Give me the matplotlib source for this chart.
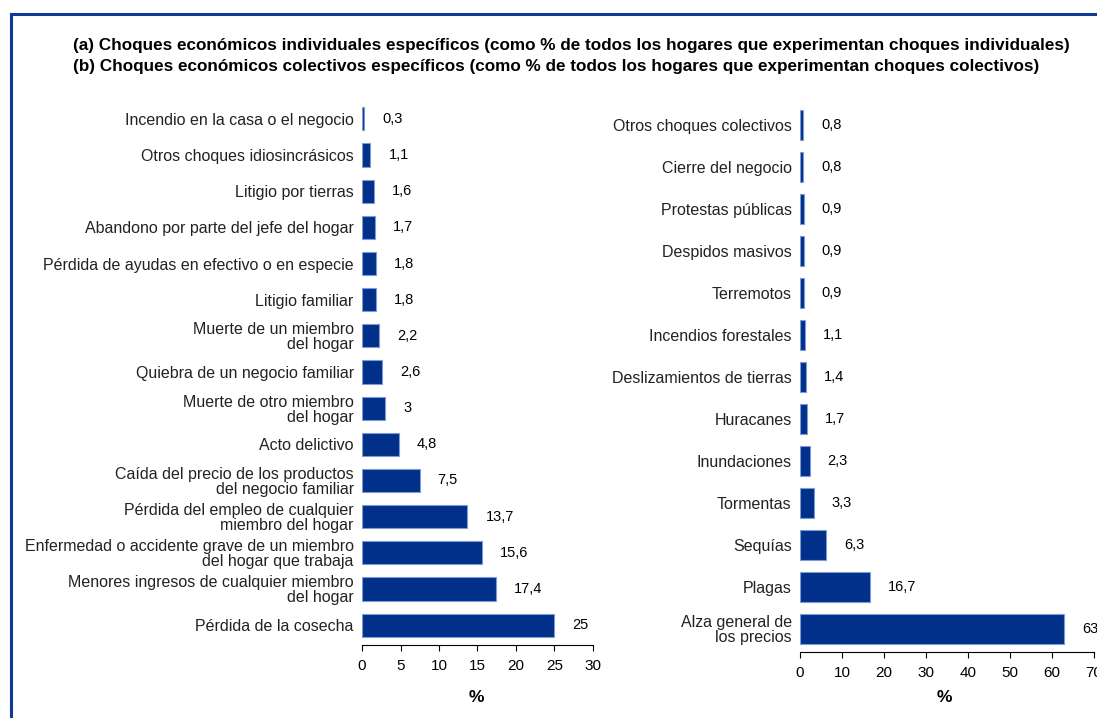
#!/usr/bin/env python3

import matplotlib
matplotlib.use("Agg")
import matplotlib.pyplot as plt
from matplotlib import font_manager
from matplotlib.patches import Rectangle

# (a) individual shocks, top to bottom
ind_labels = [
    "Incendio en la casa o el negocio",
    "Otros choques idiosincrásicos",
    "Litigio por tierras",
    "Abandono por parte del jefe del hogar",
    "Pérdida de ayudas en efectivo o en especie",
    "Litigio familiar",
    "Muerte de un miembro\ndel hogar",
    "Quiebra de un negocio familiar",
    "Muerte de otro miembro\ndel hogar",
    "Acto delictivo",
    "Caída del precio de los productos\ndel negocio familiar",
    "Pérdida del empleo de cualquier\nmiembro del hogar",
    "Enfermedad o accidente grave de un miembro\ndel hogar que trabaja",
    "Menores ingresos de cualquier miembro\ndel hogar",
    "Pérdida de la cosecha",
]
ind_values = [0.3, 1.1, 1.6, 1.7, 1.8, 1.8, 2.2, 2.6, 3, 4.8, 7.5, 13.7, 15.6, 17.4, 25]
ind_ticks = [0, 5, 10, 15, 20, 25, 30]

# (b) collective shocks, top to bottom
col_labels = [
    "Otros choques colectivos",
    "Cierre del negocio",
    "Protestas públicas",
    "Despidos masivos",
    "Terremotos",
    "Incendios forestales",
    "Deslizamientos de tierras",
    "Huracanes",
    "Inundaciones",
    "Tormentas",
    "Sequías",
    "Plagas",
    "Alza general de\nlos precios",
]
col_values = [0.8, 0.8, 0.9, 0.9, 0.9, 1.1, 1.4, 1.7, 2.3, 3.3, 6.3, 16.7, 63]
col_ticks = [0, 10, 20, 30, 40, 50, 60, 70]

title = ("(a) Choques económicos individuales específicos (como % de todos los hogares que experimentan choques individuales)\n"
         "(b) Choques económicos colectivos específicos (como % de todos los hogares que experimentan choques colectivos)")

BAR = "#00308a"
EDGE = "#7f9ad6"

names = {f.name for f in font_manager.fontManager.ttflist}
narrow = "Liberation Sans Narrow" if "Liberation Sans Narrow" in names else "Liberation Sans"
plt.rcParams["font.family"] = ["Liberation Sans", "DejaVu Sans"]

W, H = 1097, 718
fig = plt.figure(figsize=(W / 100, H / 100), dpi=100)


def fmt(v):
    s = f"{v:g}"
    return s.replace(".", ",")


def panel(rect, labels, values, ticks, height, xmax):
    ax = fig.add_axes(rect)
    pos = list(range(len(values)))
    ax.barh(pos, values, height=height, color=BAR, edgecolor=EDGE, linewidth=0.8)
    ax.set_ylim(len(values) - 0.45, -0.55)
    ax.set_xlim(0, xmax)
    ax.set_yticks(pos)
    ax.set_yticklabels(labels, fontsize=11.5, color="#222222", linespacing=1.0)
    ax.tick_params(axis="y", length=0, pad=6)
    ax.set_xticks(ticks)
    ax.set_xticklabels([str(t) for t in ticks], fontsize=11, family=narrow)
    ax.tick_params(axis="x", length=4, width=0.8, pad=6)
    for s in ["top", "right", "left"]:
        ax.spines[s].set_visible(False)
    ax.spines["bottom"].set_linewidth(0.8)
    for i, v in enumerate(values):
        ax.annotate(fmt(v), (v, i), xytext=(18, 0), textcoords="offset pixels",
                    va="center", ha="left", fontsize=10.5, family=narrow, annotation_clip=False)
    return ax


ax1 = panel([362 / W, 1 - 645 / H, 231 / W, 546 / H], ind_labels, ind_values, ind_ticks, 0.64, 30)
ax2 = panel([800 / W, 1 - 652 / H, 293.6 / W, 550 / H], col_labels, col_values, col_ticks, 0.7, 70)

fig.text(476 / W, 1 - 698 / H, "%", fontsize=12.5, fontweight="bold", ha="center", va="center")
fig.text(944 / W, 1 - 698 / H, "%", fontsize=12.5, fontweight="bold", ha="center", va="center")

fig.text(73 / W, 1 - 56 / H, title, fontsize=12.3, fontweight="bold", ha="left", va="center",
         linespacing=1.55)

# frame around the figure (runs off the right and bottom edges)
fig.patches.append(Rectangle((10.5 / W, -0.1), 1.2, 1.1 - 14 / H, transform=fig.transFigure,
                             fill=False, edgecolor="#0c3a96", linewidth=2.2))

fig.savefig("out.png", dpi=100)
